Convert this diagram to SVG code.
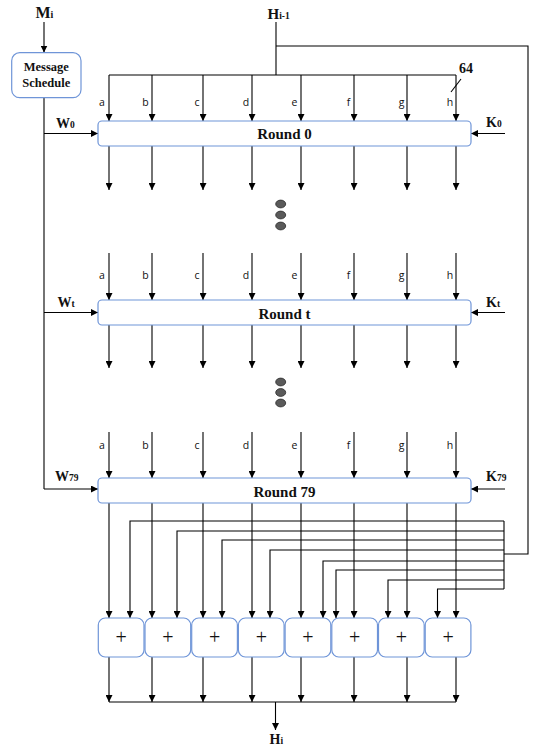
<svg xmlns="http://www.w3.org/2000/svg" width="535" height="746" viewBox="0 0 535 746">
<defs>
<marker id="ah" viewBox="0 0 10 10" refX="10" refY="5" markerWidth="7" markerHeight="7" markerUnits="userSpaceOnUse" orient="auto">
<path d="M0,0 L10,5 L0,10 z" fill="#000"/>
</marker>
<style>
.w{stroke:#000;stroke-width:1.1;fill:none}
.a{stroke:#000;stroke-width:1.1;fill:none;marker-end:url(#ah)}
.box{fill:#fff;stroke:#6f95d8;stroke-width:1.2}
.t{font-family:"Liberation Serif",serif;font-weight:bold;fill:#111}
.l{font-family:"Open Sans","DejaVu Sans",sans-serif;font-size:10.5px;fill:#111}
.dot{fill:#5a5a5a;stroke:#2a2a2a;stroke-width:0.8}
.p{font-family:"Liberation Serif",serif;font-size:20px;fill:#111;text-anchor:middle}
</style>
</defs>
<rect width="535" height="746" fill="#fff"/>

<g id="connectors">
<path class="a" d="M44,22 V52.5"/>
<path class="w" d="M44,98 V489"/>
<path class="a" d="M44,133.5 H98"/>
<path class="a" d="M44,312.5 H98"/>
<path class="a" d="M44,489 H98"/>
<path class="a" d="M505,133.5 H471"/>
<path class="a" d="M505,312.5 H471"/>
<path class="a" d="M505,489 H471"/>
<path class="w" d="M276,22 V75"/>
<path class="w" d="M109,75 H456"/>
<path class="w" d="M276,46 H528 V554 H504"/>
<path class="w" d="M451,92 L461,79"/>
<!-- round 0 inputs -->
<path class="a" d="M109,75 V121"/><path class="a" d="M152,75 V121"/><path class="a" d="M203,75 V121"/><path class="a" d="M252,75 V121"/><path class="a" d="M301,75 V121"/><path class="a" d="M354,75 V121"/><path class="a" d="M407,75 V121"/><path class="a" d="M456,75 V121"/>
<!-- round 0 outputs -->
<path class="a" d="M109,146 V190"/><path class="a" d="M152,146 V190"/><path class="a" d="M203,146 V190"/><path class="a" d="M252,146 V190"/><path class="a" d="M301,146 V190"/><path class="a" d="M354,146 V190"/><path class="a" d="M407,146 V190"/><path class="a" d="M456,146 V190"/>
<!-- round t inputs -->
<path class="a" d="M109,253 V300"/><path class="a" d="M152,253 V300"/><path class="a" d="M203,253 V300"/><path class="a" d="M252,253 V300"/><path class="a" d="M301,253 V300"/><path class="a" d="M354,253 V300"/><path class="a" d="M407,253 V300"/><path class="a" d="M456,253 V300"/>
<!-- round t outputs -->
<path class="a" d="M109,325 V368"/><path class="a" d="M152,325 V368"/><path class="a" d="M203,325 V368"/><path class="a" d="M252,325 V368"/><path class="a" d="M301,325 V368"/><path class="a" d="M354,325 V368"/><path class="a" d="M407,325 V368"/><path class="a" d="M456,325 V368"/>
<!-- round 79 inputs -->
<path class="a" d="M109,432 V478"/><path class="a" d="M152,432 V478"/><path class="a" d="M203,432 V478"/><path class="a" d="M252,432 V478"/><path class="a" d="M301,432 V478"/><path class="a" d="M354,432 V478"/><path class="a" d="M407,432 V478"/><path class="a" d="M456,432 V478"/>
<!-- round 79 outputs to adders -->
<path class="a" d="M109,503 V618"/><path class="a" d="M152,503 V618"/><path class="a" d="M203,503 V618"/><path class="a" d="M252,503 V618"/><path class="a" d="M301,503 V618"/><path class="a" d="M354,503 V618"/><path class="a" d="M407,503 V618"/><path class="a" d="M456,503 V618"/>
<!-- feedback lines -->
<path class="w" d="M504,521 V589"/>
<path class="a" d="M504,521 H130 V618"/>
<path class="a" d="M504,531 H177 V618"/>
<path class="a" d="M504,540 H222 V618"/>
<path class="a" d="M504,550 H270 V618"/>
<path class="a" d="M504,561 H323 V618"/>
<path class="a" d="M504,570 H336 V618"/>
<path class="a" d="M504,580 H388 V618"/>
<path class="a" d="M504,589 H437.5 V618"/>
<!-- adder outputs -->
<path class="a" d="M109,657 V702"/><path class="a" d="M152,657 V702"/><path class="a" d="M203,657 V702"/><path class="a" d="M252,657 V702"/><path class="a" d="M301,657 V702"/><path class="a" d="M354,657 V702"/><path class="a" d="M407,657 V702"/><path class="a" d="M456,657 V702"/>
<path class="w" d="M109,702 H456"/>
<path class="a" d="M275.5,702 V730"/>
</g>

<g id="labels">
<text class="t" x="35.5" y="17.5" font-size="16">M<tspan font-size="10">i</tspan></text>
<text class="t" x="267.5" y="19" font-size="15">H<tspan font-size="9.5">i-1</tspan></text>
<text class="t" x="459" y="73" font-size="14">64</text>
<text class="t" x="56" y="127.5" font-size="14">W<tspan font-size="9.5">0</tspan></text>
<text class="t" x="57.5" y="306.5" font-size="14">W<tspan font-size="9.5">t</tspan></text>
<text class="t" x="55" y="480.5" font-size="14">W<tspan font-size="9.5">79</tspan></text>
<text class="t" x="486" y="127" font-size="14">K<tspan font-size="9.5">0</tspan></text>
<text class="t" x="486" y="306.5" font-size="14">K<tspan font-size="9.5">t</tspan></text>
<text class="t" x="486" y="480.5" font-size="14">K<tspan font-size="9.5">79</tspan></text>
<text class="t" x="269.5" y="744" font-size="14">H<tspan font-size="9.5">i</tspan></text>
</g>

<g id="letters0" class="l" text-anchor="middle">
<text x="102" y="106">a</text><text x="145.5" y="106">b</text><text x="197" y="106">c</text><text x="246" y="106">d</text><text x="294.5" y="106">e</text><text x="348.5" y="106">f</text><text x="401.5" y="106">g</text><text x="450" y="106">h</text>
</g>
<g id="letterst" class="l" text-anchor="middle">
<text x="102" y="279">a</text><text x="145.5" y="279">b</text><text x="197" y="279">c</text><text x="246" y="279">d</text><text x="294.5" y="279">e</text><text x="348.5" y="279">f</text><text x="401.5" y="279">g</text><text x="450" y="279">h</text>
</g>
<g id="letters79" class="l" text-anchor="middle">
<text x="102" y="449">a</text><text x="145.5" y="449">b</text><text x="197" y="449">c</text><text x="246" y="449">d</text><text x="294.5" y="449">e</text><text x="348.5" y="449">f</text><text x="401.5" y="449">g</text><text x="450" y="449">h</text>
</g>

<g id="schedule">
<rect class="box" x="11.7" y="52.7" width="69.3" height="45" rx="8"/>
<text class="t" x="46.3" y="71" font-size="12.5" text-anchor="middle">Message</text>
<text class="t" x="46.3" y="86.5" font-size="12.5" text-anchor="middle">Schedule</text>
</g>

<g id="round0">
<rect class="box" x="98" y="121" width="373" height="25" rx="4"/>
<text class="t" x="284.5" y="139" font-size="15" text-anchor="middle">Round 0</text>
</g>
<g id="roundt">
<rect class="box" x="98" y="300" width="373" height="25" rx="4"/>
<text class="t" x="284.5" y="318.5" font-size="15" text-anchor="middle">Round t</text>
</g>
<g id="round79">
<rect class="box" x="98" y="478" width="373" height="25" rx="4"/>
<text class="t" x="284.5" y="496.5" font-size="15" text-anchor="middle">Round 79</text>
</g>

<g id="dots1">
<ellipse class="dot" cx="280.7" cy="204" rx="5" ry="3.9"/>
<ellipse class="dot" cx="280.7" cy="215" rx="5" ry="3.9"/>
<ellipse class="dot" cx="280.7" cy="226" rx="5" ry="3.9"/>
</g>
<g id="dots2">
<ellipse class="dot" cx="280.7" cy="382" rx="5" ry="3.9"/>
<ellipse class="dot" cx="280.7" cy="392.5" rx="5" ry="3.9"/>
<ellipse class="dot" cx="280.7" cy="403" rx="5" ry="3.9"/>
</g>

<g id="add1"><rect class="box" x="98.3" y="618" width="45.7" height="39" rx="7"/><text class="p" x="121.2" y="644">+</text></g>
<g id="add2"><rect class="box" x="145" y="618" width="45.7" height="39" rx="7"/><text class="p" x="167.9" y="644">+</text></g>
<g id="add3"><rect class="box" x="191.7" y="618" width="45.7" height="39" rx="7"/><text class="p" x="214.6" y="644">+</text></g>
<g id="add4"><rect class="box" x="238.4" y="618" width="45.7" height="39" rx="7"/><text class="p" x="261.3" y="644">+</text></g>
<g id="add5"><rect class="box" x="285.1" y="618" width="45.7" height="39" rx="7"/><text class="p" x="308" y="644">+</text></g>
<g id="add6"><rect class="box" x="331.8" y="618" width="45.7" height="39" rx="7"/><text class="p" x="354.7" y="644">+</text></g>
<g id="add7"><rect class="box" x="378.5" y="618" width="45.7" height="39" rx="7"/><text class="p" x="401.4" y="644">+</text></g>
<g id="add8"><rect class="box" x="425.2" y="618" width="45.7" height="39" rx="7"/><text class="p" x="448.1" y="644">+</text></g>
</svg>
